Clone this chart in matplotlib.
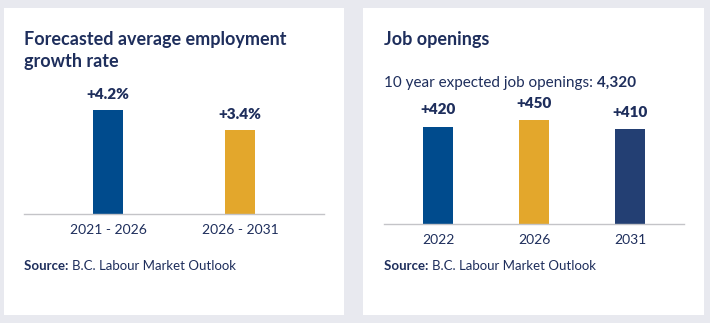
import matplotlib
matplotlib.use("Agg")
import matplotlib.pyplot as plt
from matplotlib.patches import Rectangle

plt.rcParams['font.family'] = ['Lato', 'DejaVu Sans']

# Data
growth_periods = ["2021 - 2026", "2026 - 2031"]
growth_values = [4.2, 3.4]
growth_labels = ["+4.2%", "+3.4%"]
growth_colors = ["#004b8d", "#e3a72c"]

opening_years = ["2022", "2026", "2031"]
opening_values = [420, 450, 410]
opening_labels = ["+420", "+450", "+410"]
opening_colors = ["#004b8d", "#e3a72c", "#233f73"]
total_openings = "4,320"

TEXT = "#1e2e5c"
W, H = 710, 323
fig = plt.figure(figsize=(W / 100, H / 100), dpi=100)
fig.patch.set_facecolor("#e8e9ef")


def fx(px):
    return px / W


def fy(py):
    return 1 - py / H


# cards
for x0, x1 in [(4, 344), (363, 704)]:
    fig.patches.append(Rectangle((fx(x0), fy(315)), fx(x1 - x0), (315 - 8) / H,
                                 transform=fig.transFigure, facecolor="white",
                                 edgecolor="none", zorder=-5))


def make_axes(left, right, base, top):
    ax = fig.add_axes([fx(left), fy(base), fx(right - left), (base - top) / H])
    ax.set_facecolor("none")
    ax.set_zorder(2)
    for s in ["top", "right", "left"]:
        ax.spines[s].set_visible(False)
    ax.spines["bottom"].set_color("#c4c4c8")
    ax.spines["bottom"].set_linewidth(1.0)
    ax.set_yticks([])
    ax.tick_params(axis="x", length=0, pad=7, labelsize=10, labelcolor=TEXT)
    return ax


# Left chart
ax1 = make_axes(24, 324, 214, 214 - 124)
ax1.bar(range(len(growth_values)), growth_values, width=0.227, color=growth_colors)
ax1.set_xlim(-0.636, 1.636)
ax1.set_ylim(0, 5)
ax1.set_xticks(range(len(growth_periods)))
ax1.set_xticklabels(growth_periods)
for i, (v, lab) in enumerate(zip(growth_values, growth_labels)):
    ax1.annotate(lab, (i, v), xytext=(0, 15), textcoords="offset pixels",
                 ha="center", va="center", fontsize=11, fontweight="heavy", color=TEXT,
                 annotation_clip=False)

fig.text(fx(24), fy(39), "Forecasted average employment", fontsize=13,
         fontweight="bold", color=TEXT, va="center", ha="left")
fig.text(fx(24), fy(61), "growth rate", fontsize=13,
         fontweight="bold", color=TEXT, va="center", ha="left")

# Right chart
ax2 = make_axes(384, 684, 224, 224 - 115.5)
ax2.bar(range(len(opening_values)), opening_values, width=0.3125, color=opening_colors)
ax2.set_xlim(-0.5625, 2.5625)
ax2.set_ylim(0, 500)
ax2.set_xticks(range(len(opening_years)))
ax2.set_xticklabels(opening_years)
for i, (v, lab) in enumerate(zip(opening_values, opening_labels)):
    ax2.annotate(lab, (i, v), xytext=(0, 17), textcoords="offset pixels",
                 ha="center", va="center", fontsize=11, fontweight="heavy", color=TEXT,
                 annotation_clip=False)

fig.text(fx(384), fy(39), "Job openings", fontsize=13,
         fontweight="bold", color=TEXT, va="center", ha="left")
t = fig.text(fx(384), fy(83), "10 year expected job openings: ", fontsize=11,
             color=TEXT, va="center", ha="left")
fig.canvas.draw()
bb = t.get_window_extent()
fig.text(bb.x1 / W, fy(83), total_openings, fontsize=11, fontweight="bold",
         color=TEXT, va="center", ha="left")

# Sources
for x in [24, 384]:
    s = fig.text(fx(x), fy(266), "Source: ", fontsize=9.5, fontweight="bold",
                 color=TEXT, va="center", ha="left")
    fig.canvas.draw()
    b = s.get_window_extent()
    fig.text(b.x1 / W, fy(266), "B.C. Labour Market Outlook", fontsize=9.5,
             color=TEXT, va="center", ha="left")

fig.savefig("out.png", dpi=100, facecolor=fig.get_facecolor())
